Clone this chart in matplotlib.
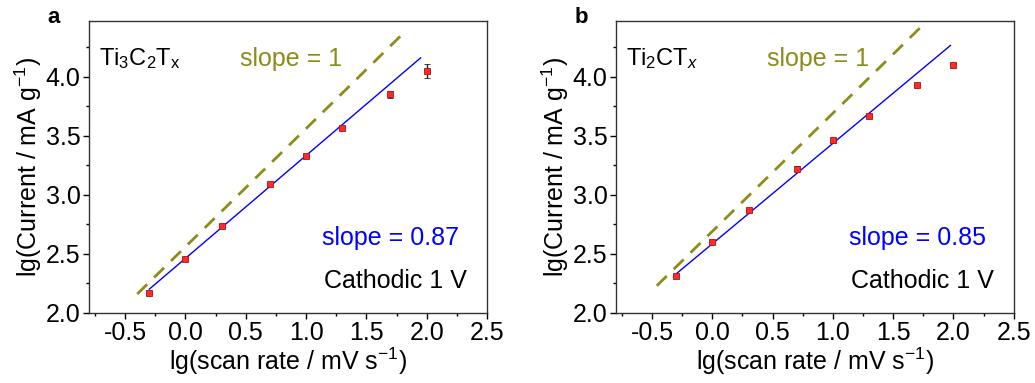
import numpy as np
import matplotlib.pyplot as plt
from matplotlib.ticker import MultipleLocator

plt.rcParams['font.family'] = ['Liberation Sans', 'DejaVu Sans']
plt.rcParams['mathtext.fontset'] = 'custom'
plt.rcParams['mathtext.rm'] = 'Liberation Sans'
plt.rcParams['mathtext.it'] = 'Liberation Sans:italic'
plt.rcParams['axes.unicode_minus'] = False

# lg(scan rate)
x = [-0.301, 0.0, 0.301, 0.699, 1.0, 1.301, 1.699, 2.0]

# panel a: Ti3C2Tx
y_a = [2.17, 2.46, 2.737, 3.087, 3.33, 3.565, 3.85, 4.045]
err_a = [0.01, 0.01, 0.01, 0.01, 0.01, 0.01, 0.03, 0.06]
fit_a = (0.87, 2.462)      # slope, intercept
fit_a_range = (-0.3, 1.95)
ref_a = (1.0, 2.56)
ref_a_range = (-0.4, 1.8)

# panel b: Ti2CTx
y_b = [2.316, 2.60, 2.875, 3.22, 3.46, 3.67, 3.925, 4.095]
err_b = [0.01, 0.01, 0.01, 0.02, 0.02, 0.01, 0.01, 0.01]
fit_b = (0.85, 2.585)
fit_b_range = (-0.3, 1.975)
ref_b = (1.0, 2.69)
ref_b_range = (-0.46, 1.76)

panels = [
    ("a", r"Ti$_3$C$_2$T$_\mathrm{x}$", y_a, err_a, fit_a, fit_a_range, ref_a, ref_a_range, "slope = 0.87"),
    ("b", r"Ti$_2$CT$_x$", y_b, err_b, fit_b, fit_b_range, ref_b, ref_b_range, "slope = 0.85"),
]

fig = plt.figure(figsize=(10.35, 3.83), dpi=100)
lefts = [0.086, 0.595]
fs = 18

for left, (tag, name, y, err, fit, frng, ref, rrng, slope_txt) in zip(lefts, panels):
    ax = fig.add_axes([left, 0.183, 0.3845, 0.762])

    xr = np.array(rrng)
    ax.plot(xr, ref[0] * xr + ref[1], color='#8c8c1a', lw=2, dashes=(5, 3.5))
    xf = np.array(frng)
    ax.plot(xf, fit[0] * xf + fit[1], color='#0000ff', lw=1)
    ax.errorbar(x, y, yerr=err, fmt='s', ms=5, mfc='#ff2a2a', mec='#b01010',
                mew=0.6, ecolor='#222222', elinewidth=1, capsize=2.5, zorder=3)

    ax.set_xlim(-0.8, 2.5)
    ax.set_ylim(2.0, 4.47)
    ax.xaxis.set_major_locator(MultipleLocator(0.5))
    ax.xaxis.set_minor_locator(MultipleLocator(0.25))
    ax.yaxis.set_major_locator(MultipleLocator(0.5))
    ax.yaxis.set_minor_locator(MultipleLocator(0.25))
    ax.tick_params(which='major', direction='out', length=4, width=1,
                   labelsize=fs, pad=2)
    ax.tick_params(which='minor', direction='out', length=2.5, width=1)
    for s in ax.spines.values():
        s.set_color('#333333')
        s.set_linewidth(1)

    ax.set_xlabel(r"lg(scan rate / mV s$^{\mathrm{-1}}$)", fontsize=fs, labelpad=0)
    ax.set_ylabel(r"lg(Current / mA g$^{\mathrm{-1}}$)", fontsize=fs, labelpad=1)

    ax.text(0.025, 0.87, name, transform=ax.transAxes, fontsize=17, va='center')
    ax.text(0.38, 0.87, "slope = 1", transform=ax.transAxes, fontsize=fs,
            color='#8c8c1a', va='center')
    ax.text(0.585, 0.255, slope_txt, transform=ax.transAxes, fontsize=fs,
            color='#0000ff', va='center')
    ax.text(0.59, 0.11, "Cathodic 1 V", transform=ax.transAxes, fontsize=fs,
            color='black', va='center')
    fig.text(left - 0.04, 0.955, tag, fontsize=16, fontweight='bold', va='center')

fig.savefig("out.png", dpi=100)
